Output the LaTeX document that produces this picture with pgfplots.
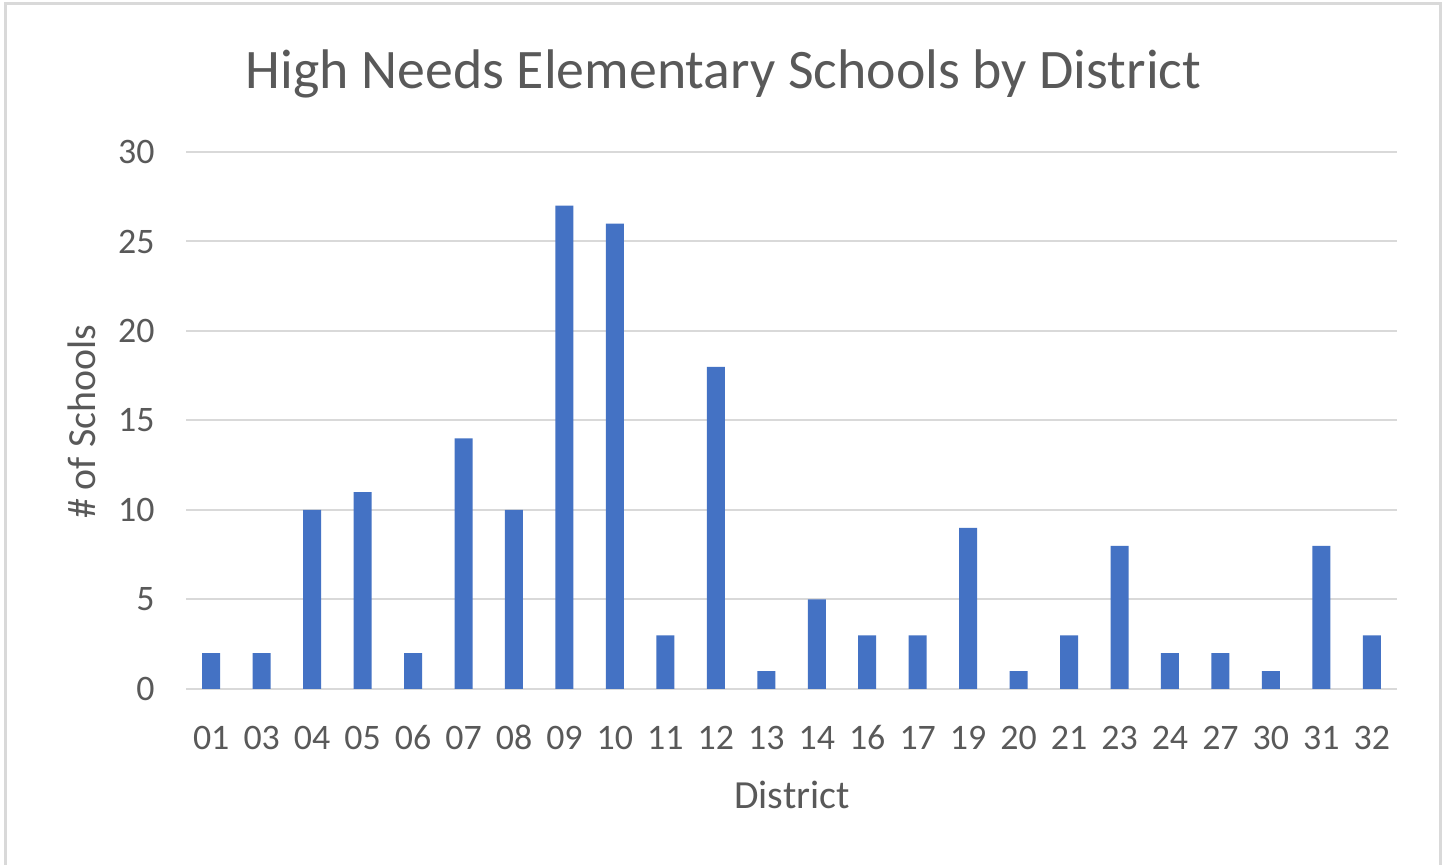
\documentclass[border=0pt]{standalone}
\usepackage{fontspec}
\setmainfont{Carlito}
\usepackage{pgfplots}
\pgfplotsset{compat=1.18}
\definecolor{barblue}{HTML}{4472C4}
\definecolor{txtgray}{HTML}{595959}
\definecolor{gridgray}{HTML}{D9D9D9}
\begin{document}
\begin{tikzpicture}[x=0.5bp,y=0.5bp]
\useasboundingbox (0,0) rectangle (1450,864);
\fill[white] (0,0) rectangle (1450,864);
\draw[gridgray, line width=1.5bp] (5.5,-10) rectangle (1440.5,860);
\node[txtgray, font=\fontsize{28}{30}\selectfont] at (723.5,790) {High Needs Elementary Schools by District};
\node[txtgray, font=\fontsize{20}{22}\selectfont, rotate=90] at (82,442) {\# of Schools};
\node[txtgray, font=\fontsize{20}{22}\selectfont] at (792,69) {District};
\begin{axis}[
    at={(93bp,87.5bp)}, anchor=south west,
    scale only axis,
    width=605.5bp, height=268.5bp,
    ybar, bar width=9bp,
    xmin=-0.5, xmax=23.5, ymin=0, ymax=30,
    enlargelimits=false,
    xtick=data,
    xticklabels={01,03,04,05,06,07,08,09,10,11,12,13,14,16,17,19,20,21,23,24,27,30,31,32},
    ytick={0,5,...,30},
    axis line style={draw=none},
    tick style={draw=none},
    ymajorgrids,
    grid style={gridgray, line width=1bp},
    /pgf/number format/assume math mode=true,
    ticklabel style={txtgray, font=\fontsize{18}{20}\selectfont, inner sep=0pt},
    xticklabel style={anchor=center, yshift=-20bp},
    yticklabel style={anchor=east, xshift=-15.5bp},
]
\addplot[fill=barblue, draw=none] coordinates {
    (0,2)(1,2)(2,10)(3,11)(4,2)(5,14)(6,10)(7,27)(8,26)(9,3)(10,18)(11,1)
    (12,5)(13,3)(14,3)(15,9)(16,1)(17,3)(18,8)(19,2)(20,2)(21,1)(22,8)(23,3)
};
\end{axis}
\end{tikzpicture}
\end{document}
